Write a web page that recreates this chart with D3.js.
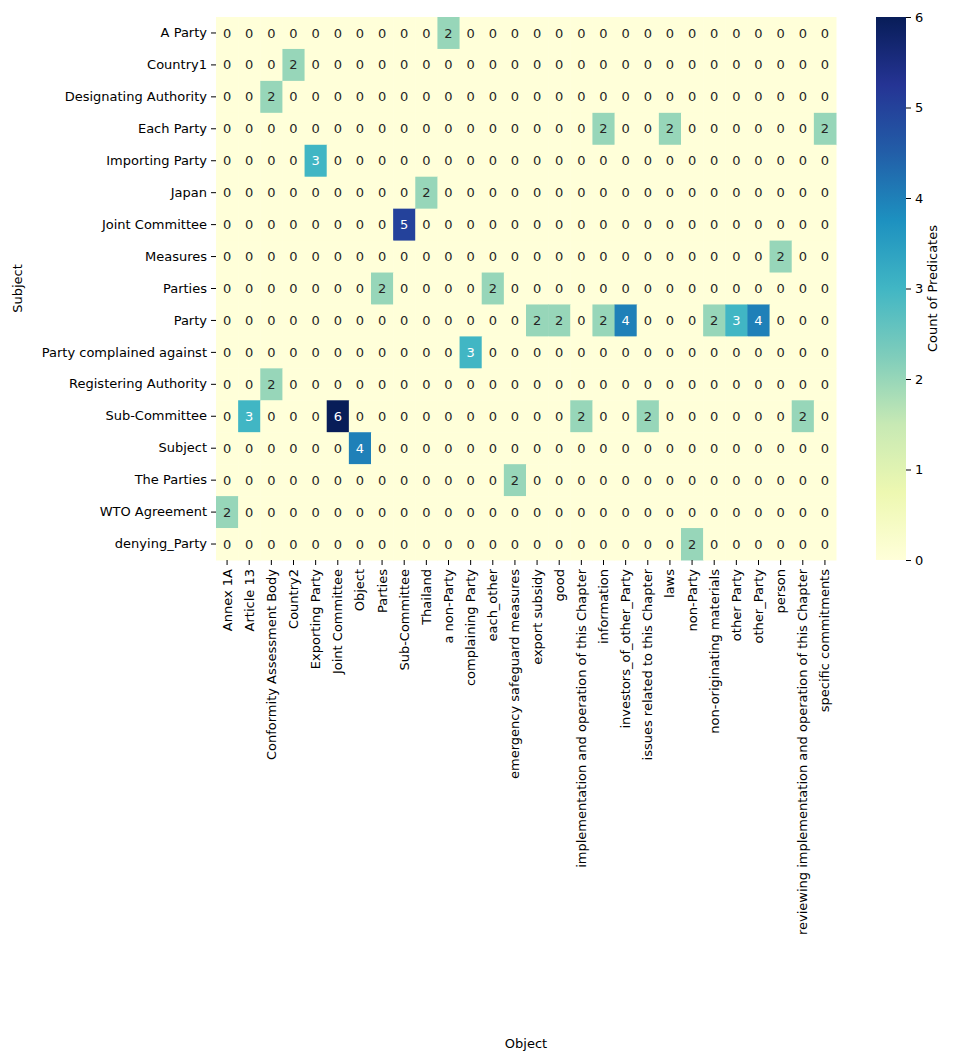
<!DOCTYPE html>
<html>
<head>
<meta charset="utf-8">
<script src="https://cdn.jsdelivr.net/npm/d3@7"></script>
<style>
  body { margin: 0; background: #fff; }
  svg text { font-family: "DejaVu Sans", sans-serif; }
</style>
</head>
<body>
<div id="container"></div>
<script>
const width = 953,
  height = 1062,
  margin = {top: 17, left: 216, right: 117, bottom: 502};

// subjects (rows) and objects (columns)
const subjects = ["A Party", "Country1", "Designating Authority", "Each Party", "Importing Party",
  "Japan", "Joint Committee", "Measures", "Parties", "Party", "Party complained against",
  "Registering Authority", "Sub-Committee", "Subject", "The Parties", "WTO Agreement", "denying_Party"];

const objects = ["Annex 1A", "Article 13", "Conformity Assessment Body", "Country2", "Exporting Party",
  "Joint Committee", "Object", "Parties", "Sub-Committee", "Thailand", "a non-Party",
  "complaining Party", "each_other", "emergency safeguard measures", "export subsidy", "good",
  "implementation and operation of this Chapter", "information", "investors_of_other_Party",
  "issues related to this Chapter", "laws", "non-Party", "non-originating materials",
  "other Party", "other_Party", "person", "reviewing implementation and operation of this Chapter",
  "specific commitments"];

// counts of predicates, one row per subject
const counts = [
  [0,0,0,0,0,0,0,0,0,0,2,0,0,0,0,0,0,0,0,0,0,0,0,0,0,0,0,0],
  [0,0,0,2,0,0,0,0,0,0,0,0,0,0,0,0,0,0,0,0,0,0,0,0,0,0,0,0],
  [0,0,2,0,0,0,0,0,0,0,0,0,0,0,0,0,0,0,0,0,0,0,0,0,0,0,0,0],
  [0,0,0,0,0,0,0,0,0,0,0,0,0,0,0,0,0,2,0,0,2,0,0,0,0,0,0,2],
  [0,0,0,0,3,0,0,0,0,0,0,0,0,0,0,0,0,0,0,0,0,0,0,0,0,0,0,0],
  [0,0,0,0,0,0,0,0,0,2,0,0,0,0,0,0,0,0,0,0,0,0,0,0,0,0,0,0],
  [0,0,0,0,0,0,0,0,5,0,0,0,0,0,0,0,0,0,0,0,0,0,0,0,0,0,0,0],
  [0,0,0,0,0,0,0,0,0,0,0,0,0,0,0,0,0,0,0,0,0,0,0,0,0,2,0,0],
  [0,0,0,0,0,0,0,2,0,0,0,0,2,0,0,0,0,0,0,0,0,0,0,0,0,0,0,0],
  [0,0,0,0,0,0,0,0,0,0,0,0,0,0,2,2,0,2,4,0,0,0,2,3,4,0,0,0],
  [0,0,0,0,0,0,0,0,0,0,0,3,0,0,0,0,0,0,0,0,0,0,0,0,0,0,0,0],
  [0,0,2,0,0,0,0,0,0,0,0,0,0,0,0,0,0,0,0,0,0,0,0,0,0,0,0,0],
  [0,3,0,0,0,6,0,0,0,0,0,0,0,0,0,0,2,0,0,2,0,0,0,0,0,0,2,0],
  [0,0,0,0,0,0,4,0,0,0,0,0,0,0,0,0,0,0,0,0,0,0,0,0,0,0,0,0],
  [0,0,0,0,0,0,0,0,0,0,0,0,0,2,0,0,0,0,0,0,0,0,0,0,0,0,0,0],
  [2,0,0,0,0,0,0,0,0,0,0,0,0,0,0,0,0,0,0,0,0,0,0,0,0,0,0,0],
  [0,0,0,0,0,0,0,0,0,0,0,0,0,0,0,0,0,0,0,0,0,2,0,0,0,0,0,0]
];

const ylgnbu = ["#ffffd9","#edf8b1","#c7e9b4","#7fcdbb","#41b6c4","#1d91c0","#225ea8","#253494","#081d58"];

const cells = [];
counts.forEach((row, i) => row.forEach((v, j) => cells.push({subject: subjects[i], object: objects[j], value: v})));

const vmax = d3.max(cells, d => d.value);

const xScale = d3.scaleBand().domain(objects).range([margin.left, width - margin.right]);
const yScale = d3.scaleBand().domain(subjects).range([margin.top, height - margin.bottom]);
const colorScale = d3.scaleLinear()
  .domain(ylgnbu.map((c, i) => i * vmax / (ylgnbu.length - 1)))
  .range(ylgnbu)
  .interpolate(d3.interpolateRgb);

const svg = d3.select("#container").append("svg")
  .attr("width", width)
  .attr("height", height);

// cells
svg.append("g").selectAll("rect")
  .data(cells)
  .join("rect")
  .attr("x", d => xScale(d.object))
  .attr("y", d => yScale(d.subject))
  .attr("width", xScale.bandwidth() + 0.5)
  .attr("height", yScale.bandwidth() + 0.5)
  .attr("fill", d => colorScale(d.value));

// annotations
svg.append("g").selectAll("text")
  .data(cells)
  .join("text")
  .attr("x", d => xScale(d.object) + xScale.bandwidth() / 2)
  .attr("y", d => yScale(d.subject) + yScale.bandwidth() / 2)
  .attr("dy", "0.35em")
  .attr("text-anchor", "middle")
  .attr("font-size", 13)
  .attr("fill", d => d.value >= 3 ? "#ffffff" : "#262626")
  .text(d => d.value);

// axes
const xAxisGroup = svg.append("g")
  .attr("transform", `translate(0,${height - margin.bottom})`)
  .call(d3.axisBottom(xScale).tickSize(5).tickPadding(4));
xAxisGroup.select(".domain").remove();
xAxisGroup.selectAll("text")
  .attr("transform", "rotate(-90)")
  .attr("x", -9)
  .attr("y", 0)
  .attr("dy", "0.35em")
  .style("text-anchor", "end")
  .attr("font-size", 13)
  .attr("fill", "#000");

const yAxisGroup = svg.append("g")
  .attr("transform", `translate(${margin.left},0)`)
  .call(d3.axisLeft(yScale).tickSize(5).tickPadding(4));
yAxisGroup.select(".domain").remove();
yAxisGroup.selectAll("text").attr("font-size", 13).attr("fill", "#000");

svg.append("text")
  .attr("x", (margin.left + width - margin.right) / 2)
  .attr("y", 1048)
  .attr("text-anchor", "middle")
  .attr("font-size", 13)
  .text("Object");

svg.append("text")
  .attr("transform", `translate(22,${(margin.top + height - margin.bottom) / 2}) rotate(-90)`)
  .attr("text-anchor", "middle")
  .attr("font-size", 13)
  .text("Subject");

// colorbar
const cbX = 876, cbW = 30;
const cbScale = d3.scaleLinear().domain([0, vmax]).range([height - margin.bottom, margin.top]);
const defs = svg.append("defs");
const grad = defs.append("linearGradient")
  .attr("id", "cbgrad")
  .attr("x1", 0).attr("y1", 1).attr("x2", 0).attr("y2", 0);
grad.selectAll("stop")
  .data(colorScale.domain())
  .join("stop")
  .attr("offset", d => d / vmax)
  .attr("stop-color", d => colorScale(d));

svg.append("rect")
  .attr("x", cbX)
  .attr("y", cbScale(vmax))
  .attr("width", cbW)
  .attr("height", cbScale(0) - cbScale(vmax))
  .attr("fill", "url(#cbgrad)");

const cbAxis = svg.append("g")
  .attr("transform", `translate(${cbX + cbW},0)`)
  .call(d3.axisRight(cbScale).ticks(6).tickSize(5).tickPadding(4));
cbAxis.select(".domain").remove();
cbAxis.selectAll("text").attr("font-size", 13).attr("fill", "#000");

svg.append("text")
  .attr("transform", `translate(937,${(margin.top + height - margin.bottom) / 2}) rotate(-90)`)
  .attr("text-anchor", "middle")
  .attr("font-size", 13)
  .text("Count of Predicates");
</script>
</body>
</html>
